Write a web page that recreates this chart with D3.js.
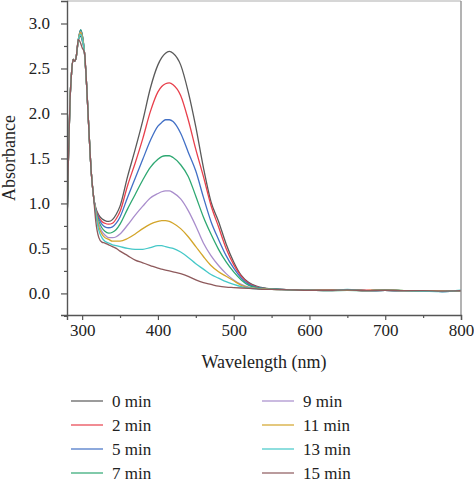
<!DOCTYPE html>
<html><head><meta charset="utf-8">
<script src="https://cdn.jsdelivr.net/npm/d3@7"></script>
<style>body{margin:0;background:#fff}svg{display:block}</style>
</head><body>
<svg id="c" width="474" height="483"></svg>
<script>
const wavelengths = [280,282,284,286,288,290,292,295,298,300,303,306,309,312,315,318,322,326,330,335,340,345,350,360,370,380,390,400,405,410,415,420,430,440,450,460,470,480,490,500,510,520,530,540,550,575,600,625,650,675,700,725,750,775,800];
const uvPart = [0.75,1.55,2.15,2.45,2.6,2.58,2.62,2.82,2.92,2.87,2.68,2.3,1.8,1.35,1.08];
const s0  = [0.95,0.87,0.83,0.81,0.80,0.82,0.88,0.97,1.30,1.60,1.92,2.28,2.54,2.62,2.67,2.69,2.67,2.54,2.24,1.85,1.40,1.02,0.80,0.55,0.35,0.20,0.12,0.08,0.06,0.05,0.04,0.035,0.035,0.04,0.03,0.035,0.03,0.03,0.02,0.03];
const s2  = [0.94,0.85,0.80,0.78,0.77,0.78,0.83,0.91,1.20,1.45,1.72,2.02,2.24,2.30,2.33,2.34,2.32,2.20,1.93,1.60,1.30,0.98,0.74,0.50,0.32,0.19,0.11,0.075,0.055,0.05,0.04,0.035,0.03,0.04,0.035,0.035,0.03,0.03,0.025,0.03];
const s5  = [0.93,0.83,0.77,0.74,0.73,0.74,0.78,0.85,1.07,1.28,1.49,1.70,1.86,1.90,1.93,1.93,1.91,1.78,1.57,1.36,1.07,0.80,0.60,0.42,0.28,0.17,0.10,0.07,0.055,0.05,0.04,0.035,0.035,0.04,0.03,0.035,0.03,0.03,0.02,0.03];
const s7  = [0.92,0.80,0.73,0.69,0.67,0.68,0.71,0.77,0.94,1.10,1.26,1.40,1.49,1.52,1.53,1.53,1.51,1.43,1.30,1.08,0.85,0.66,0.49,0.35,0.24,0.15,0.09,0.065,0.055,0.05,0.04,0.035,0.03,0.035,0.03,0.035,0.03,0.025,0.025,0.03];
const s9  = [0.91,0.77,0.69,0.65,0.62,0.62,0.63,0.66,0.76,0.87,0.97,1.06,1.11,1.13,1.14,1.14,1.12,1.05,0.92,0.75,0.56,0.42,0.31,0.22,0.15,0.10,0.07,0.055,0.05,0.045,0.04,0.035,0.035,0.04,0.03,0.035,0.03,0.03,0.025,0.03];
const s11 = [0.90,0.74,0.66,0.62,0.60,0.58,0.58,0.58,0.61,0.66,0.72,0.77,0.80,0.81,0.81,0.80,0.78,0.72,0.63,0.52,0.41,0.31,0.24,0.19,0.14,0.09,0.065,0.055,0.05,0.045,0.04,0.035,0.035,0.04,0.03,0.04,0.03,0.03,0.025,0.03];
const s13 = [0.88,0.70,0.62,0.58,0.56,0.54,0.53,0.52,0.50,0.49,0.49,0.51,0.53,0.53,0.52,0.51,0.50,0.46,0.40,0.33,0.27,0.21,0.17,0.13,0.10,0.075,0.06,0.05,0.045,0.045,0.04,0.035,0.03,0.045,0.03,0.035,0.03,0.025,0.02,0.035];
const s15 = [0.80,0.62,0.57,0.56,0.54,0.52,0.50,0.47,0.42,0.37,0.34,0.31,0.28,0.27,0.26,0.25,0.24,0.22,0.19,0.15,0.12,0.10,0.08,0.07,0.065,0.06,0.055,0.05,0.045,0.045,0.04,0.035,0.035,0.04,0.03,0.035,0.03,0.03,0.025,0.03];
const uvPeak = [2.86,2.92,2.93,2.93,2.91,2.90,2.88,2.78];
const seriesNames = ["0 min","2 min","5 min","7 min","9 min","11 min","13 min","15 min"];
const seriesTails = [s0,s2,s5,s7,s9,s11,s13,s15];
const colors = ["#5a5a5a","#e8404c","#4270c6","#2ea872","#a98dcc","#d3a52a","#45c8c8","#8e5a5c"];
const xTicks = [300,400,500,600,700,800];
const yTicks = [0.0,0.5,1.0,1.5,2.0,2.5,3.0];

const svg = d3.select("#c");
const L=67,R=461,T=1,B=315;
const x = d3.scaleLinear().domain([280,800]).range([L,R]);
const y = d3.scaleLinear().domain([-0.24,3.25]).range([B,T]);
const font = "'Liberation Serif','Times New Roman',serif";

svg.append("clipPath").attr("id","cp").append("rect").attr("x",L).attr("y",T).attr("width",R-L).attr("height",B-T);

const line = d3.line().x(d=>x(d[0])).y(d=>y(d[1])).curve(d3.curveMonotoneX);
const g = svg.append("g").attr("clip-path","url(#cp)");
seriesTails.forEach((tail,i)=>{
  const uv = uvPart.slice(); uv[8]=uvPeak[i]; uv[9]=uvPeak[i]-0.05;
  const vals = uv.concat(tail);
  const pts = wavelengths.map((w,k)=>[w,vals[k]]);
  g.append("path").datum(pts).attr("d",line).attr("fill","none").attr("stroke",colors[i]).attr("stroke-width",1.3);
});

// frame top/right
svg.append("line").attr("x1",L).attr("x2",R).attr("y1",T).attr("y2",T).attr("stroke","#c8c8c8").attr("stroke-width",1.5);
svg.append("line").attr("x1",R).attr("x2",R).attr("y1",T).attr("y2",B).attr("stroke","#8a8a8a").attr("stroke-width",1.3);

// axes
const xa = svg.append("g").attr("transform",`translate(0,${B})`)
  .call(d3.axisBottom(x).tickValues(xTicks).tickFormat(d3.format("d")).tickSize(5).tickPadding(4));
const xm = svg.append("g").attr("transform",`translate(0,${B})`)
  .call(d3.axisBottom(x).tickValues([350,450,550,650,750]).tickFormat("").tickSize(3));
const ya = svg.append("g").attr("transform",`translate(${L},0)`)
  .call(d3.axisLeft(y).tickValues(yTicks).tickFormat(d3.format(".1f")).tickSize(6).tickPadding(11));
const ym = svg.append("g").attr("transform",`translate(${L},0)`)
  .call(d3.axisLeft(y).tickValues([-0.25,0.25,0.75,1.25,1.75,2.25,2.75]).tickFormat("").tickSize(3));
[xa,xm,ya,ym].forEach(a=>{
  a.selectAll("path").attr("stroke","#555").attr("stroke-width",1.4);
  a.selectAll("line").attr("stroke","#555").attr("stroke-width",1.2);
  a.selectAll("text").attr("fill","#222").style("font-family",font).style("font-size","17px");
});
xm.select("path").remove(); ym.select("path").remove();

svg.append("text").attr("x",(L+R)/2).attr("y",368).attr("text-anchor","middle")
  .style("font-family",font).style("font-size","18px").attr("fill","#222").text("Wavelength (nm)");
svg.append("text").attr("transform",`translate(15,${(T+B)/2}) rotate(-90)`).attr("text-anchor","middle")
  .style("font-family",font).style("font-size","18px").attr("fill","#222").text("Absorbance");

// legend
const lg = svg.append("g");
seriesNames.forEach((n,i)=>{
  const col = Math.floor(i/4), row = i%4;
  const lx = col===0?71:262, ly = 401+row*24;
  lg.append("line").attr("x1",lx).attr("x2",lx+32).attr("y1",ly).attr("y2",ly).attr("stroke",colors[i]).attr("stroke-width",1.5).attr("opacity",0.8);
  lg.append("text").attr("x",lx+41).attr("y",ly+5.5).style("font-family",font).style("font-size","17px").attr("fill","#222").text(n);
});
</script>
</body></html>
